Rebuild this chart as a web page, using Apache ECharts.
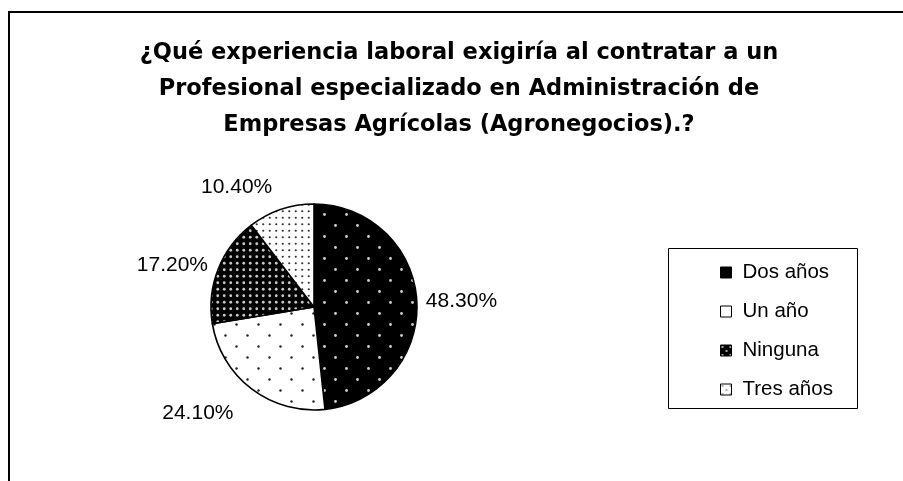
<!DOCTYPE html>
<html><head><meta charset="utf-8">
<script src="https://cdn.jsdelivr.net/npm/echarts@6/dist/echarts.min.js"></script>
<style>html,body{margin:0;padding:0;background:#fff}#c{width:903px;height:481px}</style>
</head><body><div id="c"></div>
<script>
var categories = ['Dos años', 'Un año', 'Ninguna', 'Tres años'];
var values = [48.3, 24.1, 17.2, 10.4];
var labels = ['48.30%', '24.10%', '17.20%', '10.40%'];
var titleText = '¿Qué experiencia laboral exigiría al contratar a un\nProfesional especializado en Administración de\nEmpresas Agrícolas (Agronegocios).?';

function makePattern(bg, fg, step, dotR, offsetRows) {
  var c = document.createElement('canvas');
  var s = step * 2;
  c.width = s; c.height = s;
  var g = c.getContext('2d');
  g.fillStyle = bg; g.fillRect(0, 0, s, s);
  g.fillStyle = fg;
  var pts = offsetRows ? [[step/2, step/2], [step*1.5, step*1.5]] : [[step/2, step/2],[step*1.5, step/2],[step/2, step*1.5],[step*1.5, step*1.5]];
  pts.forEach(function(p){ g.beginPath(); g.arc(p[0], p[1], dotR, 0, Math.PI*2); g.fill(); });
  return c;
}
var fills = [
  {image: makePattern('#000', '#d0d0d0', 11, 1.4, true), repeat: 'repeat'},
  {image: makePattern('#fff', '#222', 11, 1.2, true), repeat: 'repeat'},
  {image: makePattern('#000', '#c8c8c8', 6.5, 1.4, false), repeat: 'repeat'},
  {image: makePattern('#fff', '#333', 6.5, 1.1, false), repeat: 'repeat'}
];
var legendFills = [
  {image: makePattern('#000', '#000', 5, 1, false), repeat: 'repeat'},
  {image: makePattern('#fff', '#fff', 5, 1, false), repeat: 'repeat'},
  {image: makePattern('#000', '#ddd', 4, 1, true), repeat: 'repeat'},
  {image: makePattern('#fff', '#444', 4, 0.8, true), repeat: 'repeat'}
];
var lineLens = [[9, 0], [30, 0], [11, 0], [24, 1]];

var chart = echarts.init(document.getElementById('c'), null, {renderer: 'canvas'});
var data = categories.map(function(n, i){
  return {name: n, value: values[i], itemStyle: {color: fills[i], borderColor: '#000', borderWidth: 1.6},
    label: {formatter: labels[i]}, labelLine: {show: false, length: lineLens[i][0], length2: lineLens[i][1]}};
});
var FONT = 'Liberation Sans, Arial, sans-serif';
chart.setOption({
  animation: false,
  graphic: [
    {type: 'rect', shape: {x: 9, y: 12, width: 1000, height: 600}, style: {fill: 'none', stroke: '#000', lineWidth: 2}, z: -1},
    {type: 'rect', shape: {x: 668.5, y: 248.5, width: 189, height: 160}, style: {fill: '#fff', stroke: '#000', lineWidth: 1}, z: 0}
  ],
  title: {
    text: titleText, left: 454, top: 30, textAlign: 'center',
    textStyle: {fontFamily: 'DejaVu Sans, sans-serif', fontSize: 22.5, fontWeight: 'bold', color: '#000', lineHeight: 36}
  },
  legend: {
    orient: 'vertical', left: 715, top: 257, itemWidth: 11, itemHeight: 11, itemGap: 18, icon: 'rect',
    data: categories.map(function(n, i){ return {name: n, itemStyle: {color: legendFills[i], borderColor: '#000', borderWidth: 1}}; }),
    textStyle: {fontFamily: FONT, fontSize: 20.5, color: '#000', lineHeight: 21, padding: [0, 0, 0, 6]},
    z: 5
  },
  series: [{
    type: 'pie', center: [314, 307], radius: 103, startAngle: 90, clockwise: true,
    data: data,
    label: {show: true, position: 'outside', distanceToLabelLine: 0, fontFamily: FONT, fontSize: 21, color: '#000'},
    emphasis: {disabled: true}
  }]
});
</script></body></html>
